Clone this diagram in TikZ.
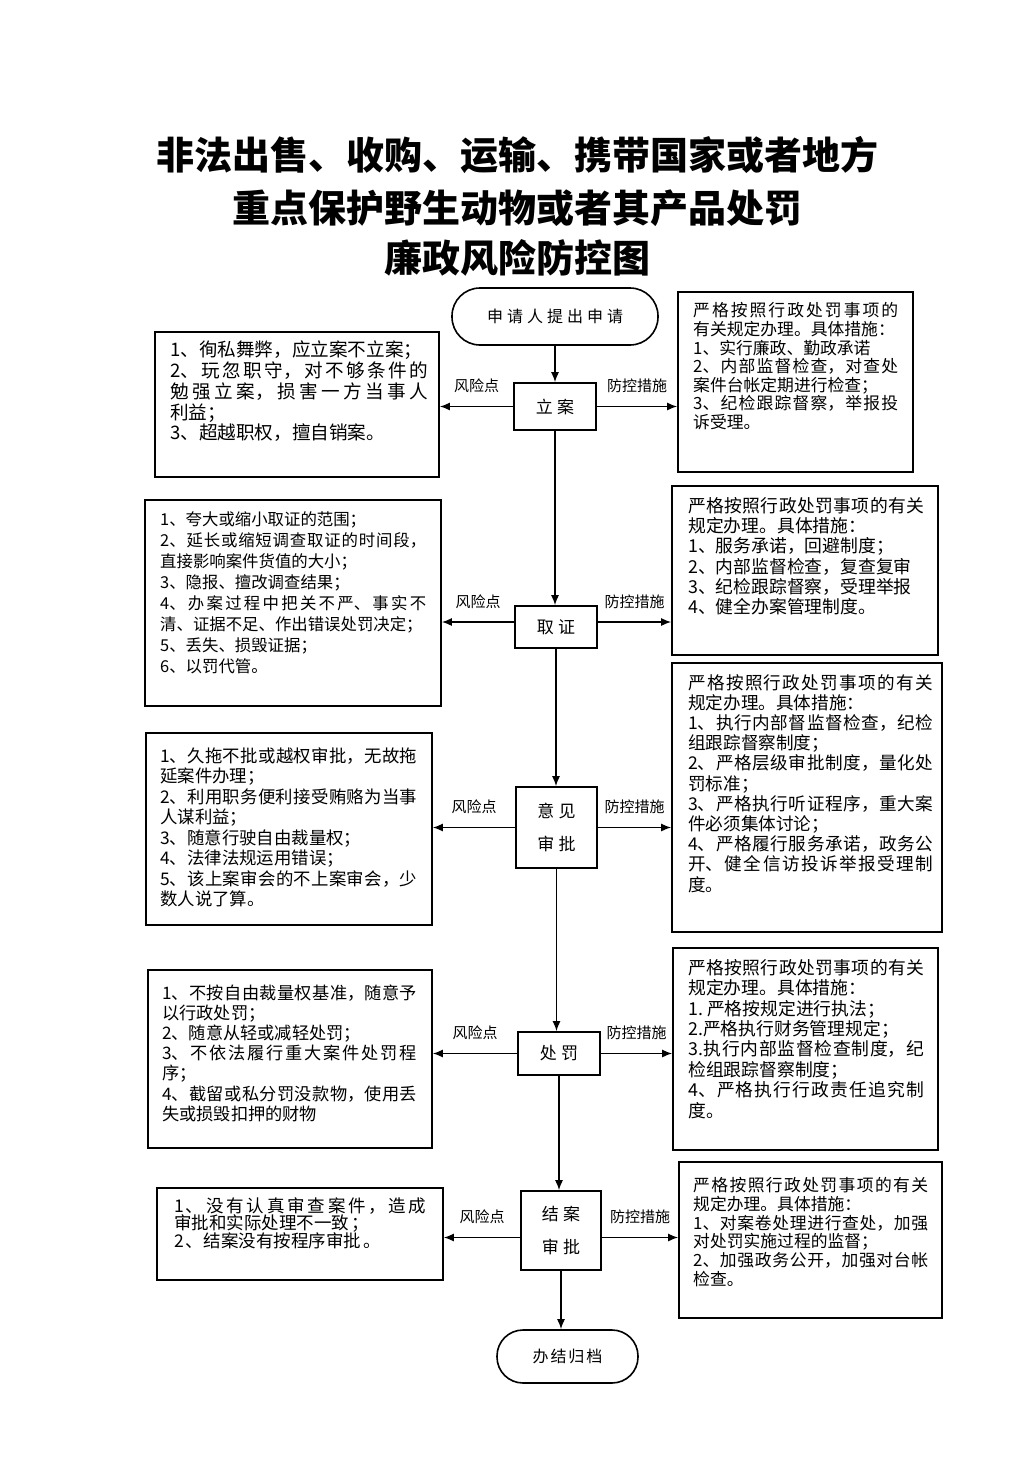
\documentclass[tikz,border=0pt]{standalone}
\usepackage{fontspec}
\usetikzlibrary{arrows.meta}
\newfontfamily\cjk[LetterSpace=12]{Noto Sans CJK SC}
\newfontfamily\cjkt{Noto Sans CJK SC}
\newfontfamily\cjkw[LetterSpace=25]{Noto Sans CJK SC}
\XeTeXlinebreaklocale "zh"
\XeTeXlinebreakskip=0pt plus 4pt
\setlength{\parindent}{0pt}
\setlength{\parskip}{0pt}
\tolerance=9999
\hbadness=10000
\lineskiplimit=-100pt
\begin{document}
\begin{tikzpicture}[x=1pt,y=-1pt,
  box/.style={draw, line width=1.6pt, inner sep=0pt},
  stage/.style={draw, line width=1.6pt, inner sep=0pt, align=center, font=\cjkw\fontsize{17}{33}\selectfont},
  term/.style={draw, line width=1.6pt, inner sep=0pt},
  arr/.style={-{Latex[length=10pt,width=8pt]}, line width=1.5pt},
  lab/.style={font=\cjkt\fontsize{15}{18}\selectfont, inner sep=0pt},
  txt/.style={anchor=north west, inner sep=0pt, align=justify},
  ttl/.style={font=\cjkt\bfseries\fontsize{38}{40}\selectfont, inner sep=0pt}
]
\useasboundingbox (0,0) rectangle (1033,1461);
\fill[white] (0,0) rectangle (1033,1461);

% title
\node[ttl] (t1) at (517,155) {非法出售、收购、运输、携带国家或者地方};
\node[ttl] (t2) at (517,208) {重点保护野生动物或者其产品处罚};
\node[ttl] (t3) at (517,258) {廉政风险防控图};

% flow nodes
\node[term, rounded corners=28pt, minimum width=206pt, minimum height=57pt, font=\cjkw\fontsize{16}{18}\selectfont] (start) at (555,316.5) {申请人提出申请};
\node[stage, minimum width=82pt, minimum height=47pt] (lian) at (555,406.5) {立案};
\node[stage, minimum width=82pt, minimum height=42pt] (qz) at (556,627) {取证};
\node[stage, minimum width=81pt, minimum height=81pt] (yj) at (556.5,827.5) {意见\\审批};
\node[stage, minimum width=82pt, minimum height=43pt] (cf) at (559,1053.5) {处罚};
\node[stage, minimum width=80pt, minimum height=79pt] (ja) at (561,1230.5) {结案\\审批};
\node[term, rounded corners=26pt, minimum width=141pt, minimum height=53pt, font=\cjk\fontsize{16}{18}\selectfont] (finish) at (567.5,1356.5) {办结归档};

% side boxes
\node[box, minimum width=284pt, minimum height=145pt] (L1) at (297,404.5) {};
\node[box, minimum width=235pt, minimum height=180pt] (R1) at (795.5,382) {};
\node[box, minimum width=296pt, minimum height=206pt] (L2) at (293,603) {};
\node[box, minimum width=266pt, minimum height=169pt] (R2) at (805,570.5) {};
\node[box, minimum width=286pt, minimum height=192pt] (L3) at (289,829) {};
\node[box, minimum width=270pt, minimum height=269pt] (R3) at (807,797.5) {};
\node[box, minimum width=284pt, minimum height=178pt] (L4) at (290,1059) {};
\node[box, minimum width=265pt, minimum height=202pt] (R4) at (805.5,1049) {};
\node[box, minimum width=286pt, minimum height=92pt] (L5) at (300,1234) {};
\node[box, minimum width=263pt, minimum height=156pt] (R5) at (810.5,1240) {};

% box texts
\node[txt, text width=258pt, font=\cjkt\fontsize{18.6}{20.8}\selectfont] (L1t) at (170,{349-0.45*18.6}) {%
1、徇私舞弊，应立案不立案；\par
2、玩忽职守，对不够条件的\linebreak 勉强立案，损害一方当事人\linebreak 利益；\par
3、超越职权，擅自销案。};

\node[txt, text width=205pt, font=\cjkt\fontsize{16.8}{18.6}\selectfont] (R1t) at (693,{310-0.45*16.8}) {%
严格按照行政处罚事项的\linebreak 有关规定办理。具体措施：\par
1、实行廉政、勤政承诺\par
2、内部监督检查，对查处\linebreak 案件台帐定期进行检查；\par
3、纪检跟踪督察，举报投\linebreak 诉受理。};

\node[txt, text width=266pt, font=\cjkt\fontsize{16.4}{21}\selectfont] (L2t) at (160,{519-0.45*16.4}) {%
1、夸大或缩小取证的范围；\par
2、延长或缩短调查取证的时间段，\linebreak 直接影响案件货值的大小；\par
3、隐报、擅改调查结果；\par
4、办案过程中把关不严、事实不\linebreak 清、证据不足、作出错误处罚决定；\par
5、丢失、损毁证据；\par
6、以罚代管。};

\node[txt, text width=236pt, font=\cjkt\fontsize{17.8}{20.3}\selectfont] (R2t) at (688,{505-0.45*17.8}) {%
严格按照行政处罚事项的有关\linebreak 规定办理。具体措施：\par
1、服务承诺，回避制度；\par
2、内部监督检查，复查复审\par
3、纪检跟踪督察，受理举报\par
4、健全办案管理制度。};

\node[txt, text width=257pt, font=\cjkt\fontsize{17.4}{20.5}\selectfont] (L3t) at (160,{755-0.45*17.4}) {%
1、久拖不批或越权审批，无故拖\linebreak 延案件办理；\par
2、利用职务便利接受贿赂为当事\linebreak 人谋利益；\par
3、随意行驶自由裁量权；\par
4、法律法规运用错误；\par
5、该上案审会的不上案审会，少\linebreak 数人说了算。};

\node[txt, text width=245pt, font=\cjkt\fontsize{17.6}{20.2}\selectfont] (R3t) at (688,{682-0.45*17.6}) {%
严格按照行政处罚事项的有关\linebreak 规定办理。具体措施：\par
1、执行内部督监督检查，纪检\linebreak 组跟踪督察制度；\par
2、严格层级审批制度，量化处\linebreak 罚标准；\par
3、严格执行听证程序，重大案\linebreak 件必须集体讨论；\par
4、严格履行服务承诺，政务公\linebreak 开、健全信访投诉举报受理制\linebreak 度。};

\node[txt, text width=255pt, font=\cjkt\fontsize{17.2}{20.2}\selectfont] (L4t) at (162,{992-0.45*17.2}) {%
1、不按自由裁量权基准，随意予\linebreak 以行政处罚；\par
2、随意从轻或减轻处罚；\par
3、不依法履行重大案件处罚程\linebreak 序；\par
4、截留或私分罚没款物，使用丢\linebreak 失或损毁扣押的财物};

\node[txt, text width=236pt, font=\cjkt\fontsize{17.8}{20.4}\selectfont] (R4t) at (688,{967-0.45*17.8}) {%
严格按照行政处罚事项的有关\linebreak 规定办理。具体措施：\par
1.\ 严格按规定进行执法；\par
2.严格执行财务管理规定；\par
3.执行内部监督检查制度，纪\linebreak 检组跟踪督察制度；\par
4、严格执行行政责任追究制\linebreak 度。};

\node[txt, text width=252pt, font=\cjk\fontsize{17.5}{17.8}\selectfont] (L5t) at (174,{1205-0.45*17.5}) {%
1、没有认真审查案件，造成\linebreak 审批和实际处理不一致；\par
2、结案没有按程序审批。};

\node[txt, text width=235pt, font=\cjkt\fontsize{16.8}{18.7}\selectfont] (R5t) at (693,{1185-0.45*16.8}) {%
严格按照行政处罚事项的有关\linebreak 规定办理。具体措施：\par
1、对案卷处理进行查处，加强\linebreak 对处罚实施过程的监督；\par
2、加强政务公开，加强对台帐\linebreak 检查。};

% vertical flow
\draw[arr] (start.south) -- (start.south |- lian.north);
\draw[arr] (lian.south) -- (lian.south |- qz.north);
\draw[arr] (qz.south) -- (qz.south |- yj.north);
\draw[arr] (yj.south) -- (yj.south |- cf.north);
\draw[arr] (cf.south) -- (cf.south |- ja.north);
\draw[arr] (ja.south) -- (ja.south |- finish.north);

% side arrows
\coordinate (q) at ([yshift=5pt]qz.west);
\coordinate (qe) at ([yshift=5pt]qz.east);
\coordinate (j) at ([yshift=-7pt]ja.west);
\coordinate (je) at ([yshift=-7pt]ja.east);

\draw[arr] (lian.west) -- (lian.west -| L1.east) node[lab, midway, above=13pt] {风险点};
\draw[arr] (lian.east) -- (lian.east -| R1.west) node[lab, midway, above=13pt] {防控措施};
\draw[arr] (q) -- (q -| L2.east) node[lab, midway, above=13pt] {风险点};
\draw[arr] (qe) -- (qe -| R2.west) node[lab, midway, above=13pt] {防控措施};
\draw[arr] (yj.west) -- (yj.west -| L3.east) node[lab, midway, above=13pt] {风险点};
\draw[arr] (yj.east) -- (yj.east -| R3.west) node[lab, midway, above=13pt] {防控措施};
\draw[arr] (cf.west) -- (cf.west -| L4.east) node[lab, midway, above=13pt] {风险点};
\draw[arr] (cf.east) -- (cf.east -| R4.west) node[lab, midway, above=13pt] {防控措施};
\draw[arr] (j) -- (j -| L5.east) node[lab, midway, above=13pt] {风险点};
\draw[arr] (je) -- (je -| R5.west) node[lab, midway, above=13pt] {防控措施};
\end{tikzpicture}
\end{document}
